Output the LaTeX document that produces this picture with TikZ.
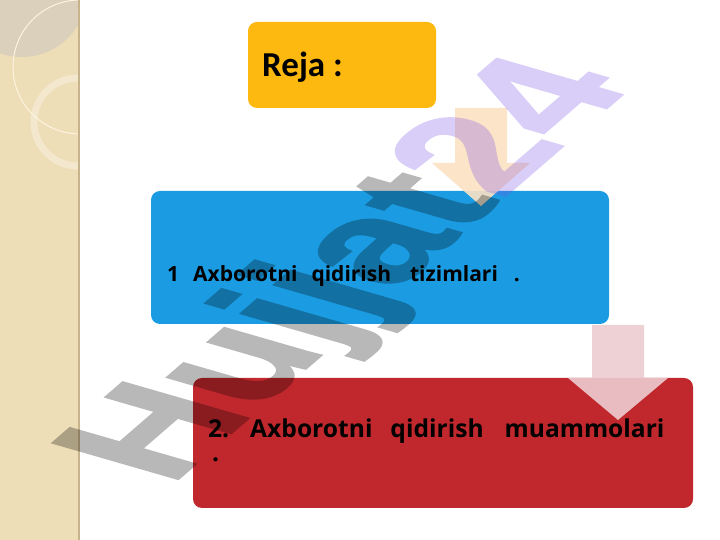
\documentclass[tikz,border=0pt]{standalone}
\usepackage{fontspec}
\setmainfont{Open Sans}
\newfontfamily\rejafont{Carlito}
\newfontfamily\markfont[FakeBold=1.5]{Liberation Sans}
\usetikzlibrary{positioning}

\definecolor{stripbeige}{RGB}{238,222,184}
\definecolor{stripshade}{RGB}{218,208,188}
\definecolor{stripedge}{RGB}{200,180,140}
\definecolor{stripcream}{RGB}{252,244,222}
\definecolor{rejayellow}{RGB}{254,185,16}
\definecolor{searchblue}{RGB}{27,156,226}
\definecolor{problemred}{RGB}{192,40,45}
\definecolor{arrowpeach}{RGB}{252,226,196}
\definecolor{arrowpink}{RGB}{237,205,209}
\definecolor{marklav}{RGB}{120,80,230}

\begin{document}
\begin{tikzpicture}[x=1pt,y=1pt,
    planbox/.style={rounded corners=9pt, inner sep=0pt},
    plantext/.style={anchor=base west, inner sep=0pt, font=\bfseries}]
\useasboundingbox (0,0) rectangle (720,540);
% Draw white page
\fill[white] (0,0) rectangle (720,540);

% Draw beige strip on the left with its circles
\fill[stripbeige] (0,0) rectangle (78,540);
\begin{scope}
  \clip (0,0) rectangle (78,540);
  \fill[stripshade] (22,548) circle (65);
  \draw[stripcream, line width=1pt] (80,473) circle (67);
  \draw[white, opacity=0.3, line width=7pt] (78,418) circle (44);
\end{scope}
\fill[stripedge] (78,0) rectangle (80,540);

% Draw the three boxes
\node[planbox, fill=rejayellow, minimum width=188, minimum height=86] (reja) at (342,475) {};
\node[planbox, fill=searchblue, minimum width=458, minimum height=133] (search) at (380,282.5) {};
\node[planbox, fill=problemred, minimum width=500, minimum height=130] (problem) at (443,97) {};

% Texts of the boxes
\node[plantext, font=\rejafont\bfseries\fontsize{35}{40}\selectfont] (rejatext) at (262,463) {Reja :};
\node[plantext, font=\bfseries\fontsize{21}{25}\selectfont] (searchtext) at (167,258)
  {1\hspace{14pt}Axborotni\hspace{14pt}qidirish\hspace{19pt}tizimlari\hspace{16pt}.};
\node[plantext, font=\bfseries\fontsize{24.6}{30}\selectfont] (problemtext) at (208,102)
  {2.\hspace{21pt}Axborotni\hspace{18pt}qidirish\hspace{21pt}muammolari};
\node[plantext, font=\bfseries\fontsize{24.6}{30}\selectfont] (problemdot) at (212,78) {.};

% Draw the block arrows
\fill[arrowpeach, opacity=0.9] (455,432) -- (507,432) -- (507,377) -- (530,377)
  -- (481,334) -- (432,377) -- (455,377) -- cycle;
\fill[arrowpink, opacity=0.9] (592,215) -- (644,215) -- (644,162) -- (668,162)
  -- (618,120) -- (568,162) -- (592,162) -- cycle;

% Draw the watermark
\begin{scope}[transparency group, opacity=0.28]
\begin{scope}[shift={(170,54)}, cm={0.5675,0.491,-0.866,0.25,(0,0)}, transform shape]
  \node[anchor=base west, inner sep=0pt,
    font=\markfont\bfseries\fontsize{210}{210}\selectfont] (mark)
    {\color{black}Hujjat\color{marklav}24};
\end{scope}
\end{scope}
\end{tikzpicture}
\end{document}
